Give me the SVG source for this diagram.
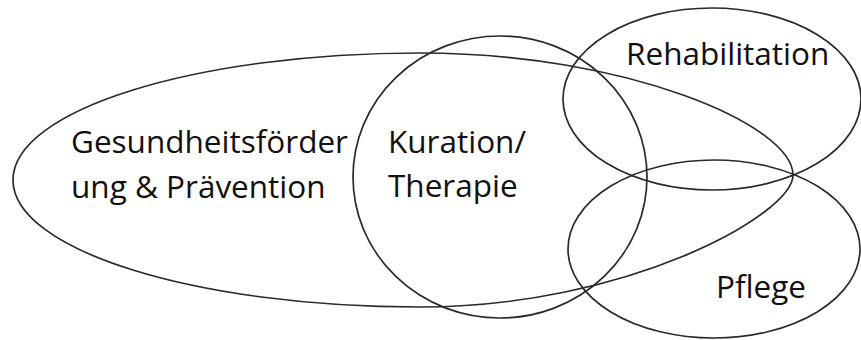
<svg xmlns="http://www.w3.org/2000/svg" width="861" height="340" viewBox="0 0 861 340">
<style>
.shape{fill:none;stroke:#2a2a2a;stroke-width:1.7}
.lbl{font-family:"Open Sans","Liberation Sans",sans-serif;font-size:31.5px;fill:#111}
</style>
<rect width="861" height="340" fill="#fff"/>
<g id="gesundheitsfoerderung">
<path class="shape" d="M13,180 C13,110 195,53 420,53 C626,53 793,125 793,175 C793,215 626,307 420,307 C195,307 13,250 13,180 Z"/>
<text class="lbl" x="71" y="153">Gesundheitsförder</text>
<text class="lbl" x="71" y="198">ung &amp; Prävention</text>
</g>
<g id="kuration">
<ellipse class="shape" cx="500" cy="177" rx="147" ry="141"/>
<text class="lbl" x="388" y="153">Kuration/</text>
<text class="lbl" x="388" y="197">Therapie</text>
</g>
<g id="rehabilitation">
<ellipse class="shape" cx="712" cy="99" rx="149" ry="91"/>
<text class="lbl" x="626" y="65">Rehabilitation</text>
</g>
<g id="pflege">
<ellipse class="shape" cx="714" cy="249" rx="146" ry="89"/>
<text class="lbl" x="716" y="298">Pflege</text>
</g>
<g id="connectors"></g>
</svg>
